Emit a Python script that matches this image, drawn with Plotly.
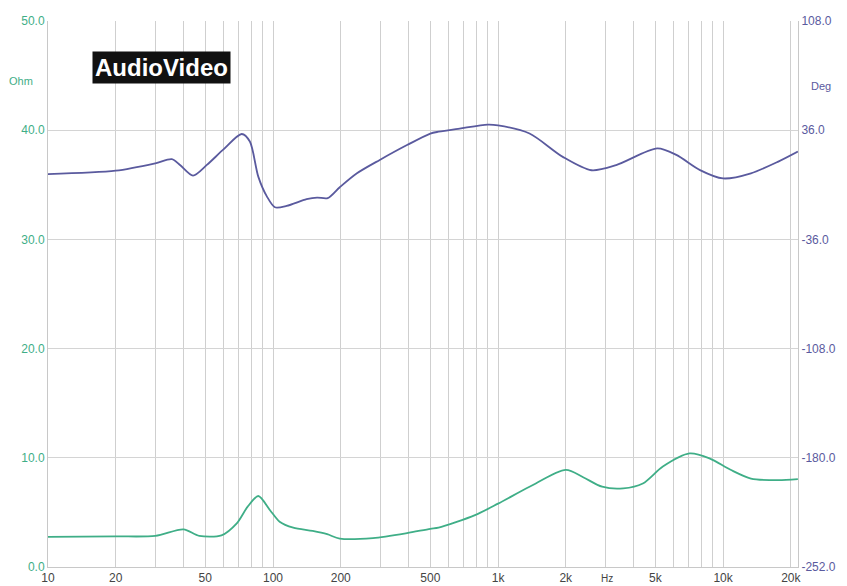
import plotly.graph_objects as go

# Impedance (Ohm) vs frequency (Hz)
imp_freq = [10, 20, 30, 40, 47, 59, 69, 77, 86, 97, 107, 123, 150, 174, 198, 278, 394, 500, 544,
            790, 1000, 1380, 2000, 2400, 2900, 3600, 4400, 5400, 7100, 8700, 10800, 13300, 17600, 21500]
imp_ohm = [2.75, 2.8, 2.85, 3.45, 2.85, 2.9, 4.0, 5.5, 6.5, 5.2, 4.15, 3.6, 3.3, 3.0, 2.6, 2.65, 3.1, 3.5, 3.6,
           4.75, 5.8, 7.35, 8.9, 8.2, 7.35, 7.2, 7.65, 9.2, 10.4, 9.95, 8.9, 8.1, 7.95, 8.05]

# Phase (deg) vs frequency (Hz)
ph_freq = [10, 20, 30, 35.5, 38.6, 44.1, 50.8, 59.9, 72.6, 78.9, 86, 94, 102, 115, 141, 157, 175, 198,
           236, 298, 394, 500, 544, 675, 900, 1000, 1380, 1940, 2600, 3350, 5100, 6200, 7900, 10000,
           13300, 17600, 21500]
ph_deg = [7.1, 9.3, 14.2, 16.9, 13.1, 6.1, 13.1, 23.0, 33.5, 28.5, 5.4, -7.8, -14.8, -13.9, -9.5, -8.4, -8.8,
          -1.6, 7.6, 16.4, 26.2, 33.8, 35.0, 37.1, 39.7, 39.2, 33.8, 18.4, 9.6, 13.0, 24.0, 19.7, 9.7, 4.2,
          7.6, 15.3, 21.9]

left_ticks = [0, 10, 20, 30, 40, 50]
left_labels = ["0.0", "10.0", "20.0", "30.0", "40.0", "50.0"]
right_ticks = [-252, -180, -108, -36, 36, 108]
right_labels = ["-252.0", "-180.0", "-108.0", "-36.0", "36.0", "108.0"]

labeled = {10: "10", 20: "20", 50: "50", 100: "100", 200: "200", 500: "500",
           1000: "1k", 2000: "2k", 5000: "5k", 10000: "10k", 20000: "20k"}
x_grid = [m * 10 ** e for e in range(1, 5) for m in range(1, 10) if m * 10 ** e <= 20000]
x_text = [labeled.get(v, "") for v in x_grid]

green = "#3fae87"
blue = "#5a5a9e"
font = "Liberation Sans, Arial, sans-serif"

fig = go.Figure()
fig.add_trace(go.Scatter(x=imp_freq, y=imp_ohm, mode="lines",
                         line=dict(color=green, width=1.8, shape="spline", smoothing=0.8),
                         yaxis="y", showlegend=False))
fig.add_trace(go.Scatter(x=ph_freq, y=ph_deg, mode="lines",
                         line=dict(color=blue, width=1.8, shape="spline", smoothing=0.8),
                         yaxis="y2", showlegend=False))

fig.update_layout(
    width=847, height=586,
    margin=dict(l=48, r=49, t=21, b=19),
    paper_bgcolor="white", plot_bgcolor="white",
    xaxis=dict(type="log", range=[1, 4.333], tickvals=x_grid, ticktext=x_text, automargin=False,
               showgrid=True, gridcolor="#cfcfcf", gridwidth=1, zeroline=False,
               showline=True, linecolor="#c8c8c8", ticks="", ticklabelstandoff=0,
               tickfont=dict(family=font, size=12, color="#444444")),
    yaxis=dict(range=[0, 50], tickvals=left_ticks, ticktext=left_labels, showgrid=True, automargin=False,
               gridcolor="#d4d4d4", zeroline=False, showline=True, linecolor="#c8c8c8",
               ticks="", tickfont=dict(family=font, size=12, color=green)),
    yaxis2=dict(range=[-252, 108], tickvals=right_ticks, ticktext=right_labels, overlaying="y",
                side="right", showgrid=False, zeroline=False, showline=True, linecolor="#c8c8c8",
                automargin=False, ticks="", tickfont=dict(family=font, size=12, color=blue)),
)

fig.add_annotation(xref="paper", yref="paper", x=-0.018, y=0.905, text="Ohm", showarrow=False,
                   xanchor="right", font=dict(family=font, size=11, color=green))
fig.add_annotation(xref="paper", yref="paper", x=1.015, y=0.895, text="Deg", showarrow=False,
                   xanchor="left", font=dict(family=font, size=11, color=blue))
fig.add_annotation(xref="paper", yref="paper", x=0.745, y=-0.0345, text="Hz", showarrow=False,
                   xanchor="center", yanchor="bottom", font=dict(family=font, size=10, color="#444444"))
fig.add_annotation(xref="paper", yref="paper", x=0.059, y=0.945, text="<b>AudioVideo</b>", showarrow=False,
                   xanchor="left", yanchor="top", bgcolor="#111111", borderpad=2,
                   font=dict(family="Liberation Sans Narrow, Liberation Sans, Arial", size=24, color="white"))

fig.write_html("out.html")
